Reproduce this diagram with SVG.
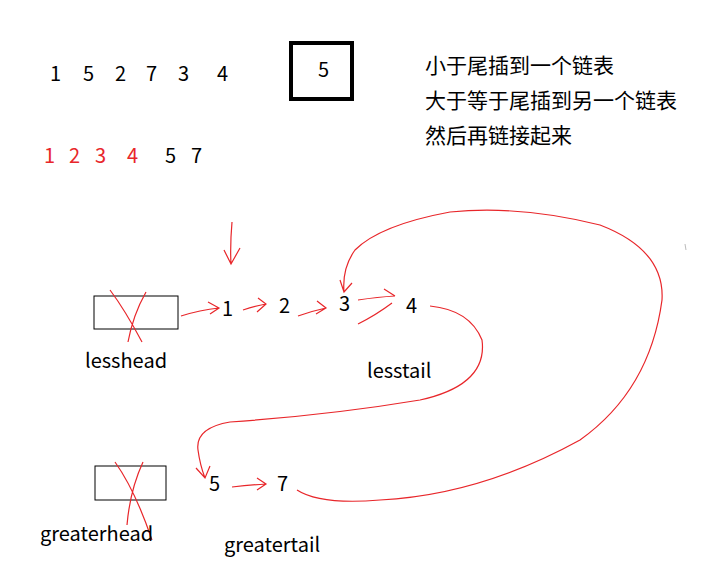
<svg xmlns="http://www.w3.org/2000/svg" width="723" height="577" viewBox="0 0 723 577">
<style>
text{font-family:"Microsoft YaHei","Noto Sans CJK SC","Liberation Sans",sans-serif;font-size:20px;fill:#000}
.cn{font-size:21px}
.r{fill:#e8262a}
.red{fill:none;stroke:#e8262a;stroke-width:1.2}
.box{fill:#fff;stroke:#000;stroke-width:1}
</style>
<rect width="723" height="577" fill="#fff"/>
<g id="sequence">
<text x="50" y="81">1</text><text x="83" y="81">5</text><text x="115" y="81">2</text><text x="146" y="81">7</text><text x="178" y="81">3</text><text x="217" y="81">4</text>
</g>
<g id="pivot"><rect x="291" y="43" width="61" height="56" fill="none" stroke="#000" stroke-width="4"/><text x="318" y="77">5</text></g>
<g id="notes">
<text class="cn" x="425" y="73">小于尾插到一个链表</text>
<text class="cn" x="425" y="108">大于等于尾插到另一个链表</text>
<text class="cn" x="425" y="143">然后再链接起来</text>
</g>
<g id="result">
<text class="r" x="44" y="163">1</text><text class="r" x="69" y="163">2</text><text class="r" x="95" y="163">3</text><text class="r" x="127" y="163">4</text>
<text x="165" y="163">5</text><text x="191" y="163">7</text>
</g>
<g id="lesshead"><rect class="box" x="94" y="296" width="84" height="33"/>
<path class="red" d="M110 290 Q125 310 142 342 M146 292 Q133 315 128 342"/>
<text x="85" y="368">lesshead</text></g>
<g id="greaterhead"><rect class="box" x="95" y="466" width="71" height="34"/>
<path class="red" d="M115 462 Q135 490 152 540 M143 462 Q130 490 127 525"/>
<text x="40" y="541">greaterhead</text></g>
<g id="nodes">
<text x="222" y="316">1</text><text x="279" y="313">2</text><text x="339" y="311">3</text><text x="406" y="313">4</text>
<text x="367" y="378">lesstail</text>
<text x="209" y="491">5</text><text x="277" y="491">7</text>
<text x="224" y="552">greatertail</text>
</g>
<g id="connectors">
<path class="red" d="M232 222 Q230 245 231 264 M224 250 L231 264 L240 248"/>
<path class="red" d="M181 316 Q200 310 219 308 M208 302 L219 308 L210 314"/>
<path class="red" d="M243 310 Q255 306 266 304 M258 298 L266 304 L257 312"/>
<path class="red" d="M298 316 Q312 311 326 308 M317 301 L326 308 L316 314"/>
<path class="red" d="M358 300 Q378 297 395 296 M384 289 L395 296 M358 324 Q376 315 392 303"/>
<path class="red" d="M232 487 Q250 485 266 484 M257 478 L266 484 L257 490"/>
<path class="red" d="M430 306 Q470 310 482 340 Q488 385 420 400 Q330 415 230 422 Q195 428 198 450 Q200 465 205 478 M196 468 L205 478 L210 466"/>
<path class="red" d="M297 490 Q320 505 380 500 Q480 495 580 440 Q650 390 662 300 Q665 250 600 225 Q520 205 450 212 Q380 225 355 250 Q342 268 344 292 M340 280 L344 292 L352 283"/>
</g>
<path d="M685 244 L686 250" stroke="#bbb" stroke-width="1"/>
</svg>
